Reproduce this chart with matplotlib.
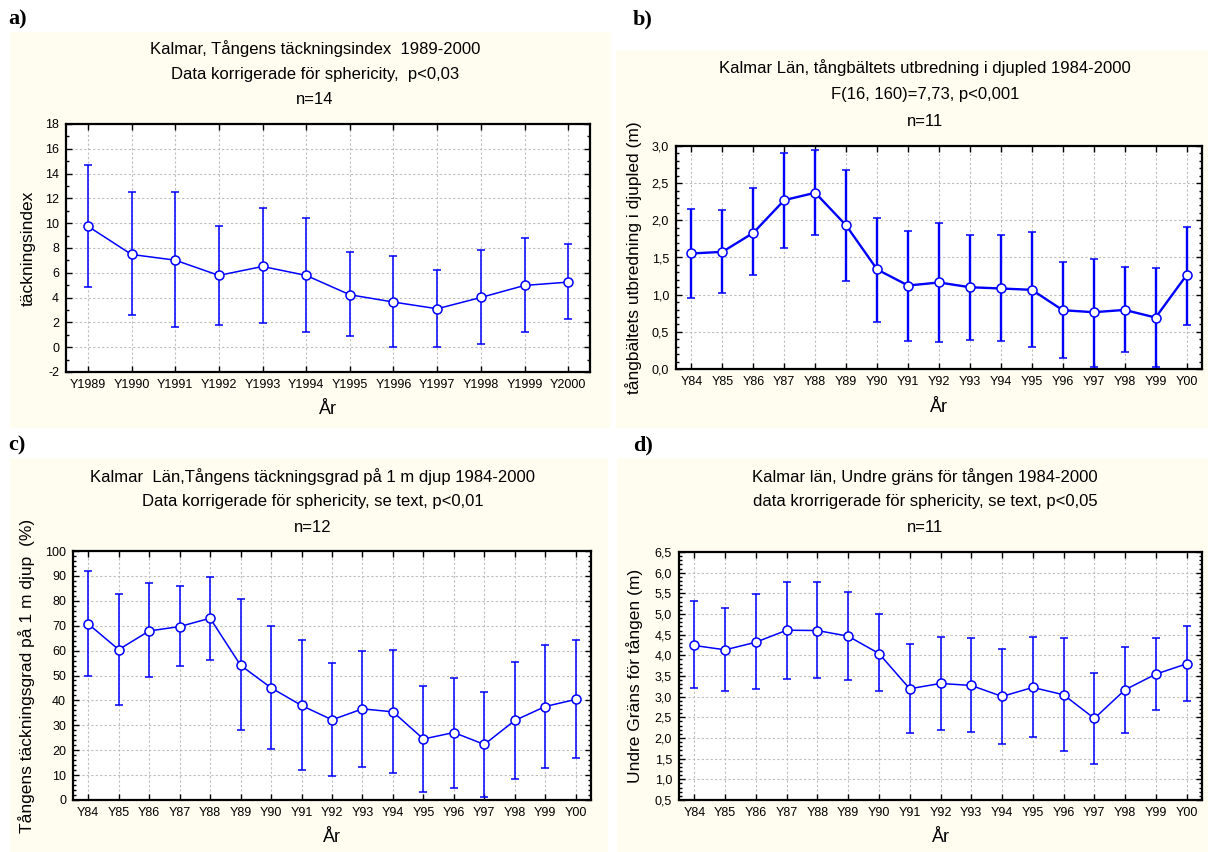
import matplotlib
matplotlib.use("Agg")
import matplotlib.pyplot as plt
import numpy as np
from matplotlib.patches import Rectangle
from matplotlib.ticker import MultipleLocator, FuncFormatter

plt.rcParams['font.family'] = ['Liberation Sans', 'DejaVu Sans']
plt.rcParams['axes.unicode_minus'] = False

# ---------------- data ----------------
years_a = ["Y1989", "Y1990", "Y1991", "Y1992", "Y1993", "Y1994",
           "Y1995", "Y1996", "Y1997", "Y1998", "Y1999", "Y2000"]
mean_a = [9.76, 7.48, 7.02, 5.79, 6.51, 5.79, 4.23, 3.64, 3.10, 4.01, 4.98, 5.25]
low_a = [4.85, 2.56, 1.60, 1.79, 1.92, 1.20, 0.90, 0.04, 0.00, 0.26, 1.22, 2.30]
up_a = [14.72, 12.50, 12.52, 9.81, 11.21, 10.40, 7.66, 7.32, 6.21, 7.83, 8.82, 8.36]

years_b = ["Y84", "Y85", "Y86", "Y87", "Y88", "Y89", "Y90", "Y91", "Y92",
           "Y93", "Y94", "Y95", "Y96", "Y97", "Y98", "Y99", "Y00"]
mean_b = [1.554, 1.576, 1.832, 2.272, 2.371, 1.931, 1.339, 1.123, 1.164,
          1.100, 1.083, 1.065, 0.791, 0.764, 0.795, 0.692, 1.262]
low_b = [0.957, 1.020, 1.262, 1.630, 1.797, 1.181, 0.634, 0.373, 0.359,
         0.395, 0.377, 0.292, 0.144, 0.031, 0.229, 0.022, 0.597]
up_b = [2.147, 2.142, 2.430, 2.910, 2.940, 2.672, 2.034, 1.859, 1.958,
        1.797, 1.797, 1.841, 1.442, 1.482, 1.370, 1.356, 1.904]

years_c = years_b
mean_c = [70.7, 60.4, 67.9, 69.65, 73.0, 54.1, 45.05, 37.97, 32.2,
          36.6, 35.4, 24.5, 27.1, 22.3, 31.95, 37.55, 40.4]
low_c = [49.6, 38.1, 49.2, 53.9, 56.15, 28.3, 20.3, 12.2, 9.6,
         13.4, 10.7, 3.34, 4.95, 1.1, 8.4, 12.8, 16.7]
up_c = [92.1, 82.9, 87.2, 85.8, 89.7, 80.6, 69.9, 64.2, 55.1,
        60.0, 60.4, 45.9, 49.1, 43.45, 55.35, 62.3, 64.3]

years_d = years_b
mean_d = [4.238, 4.133, 4.318, 4.608, 4.600, 4.463, 4.044, 3.191, 3.320,
          3.271, 3.006, 3.223, 3.046, 2.474, 3.167, 3.545, 3.795]
low_d = [3.207, 3.126, 3.175, 3.432, 3.448, 3.392, 3.126, 2.112, 2.200,
         2.136, 1.862, 2.031, 1.693, 1.371, 2.112, 2.684, 2.893]
up_d = [5.316, 5.147, 5.477, 5.783, 5.775, 5.542, 4.994, 4.286, 4.447,
        4.431, 4.165, 4.439, 4.430, 3.577, 4.205, 4.430, 4.713]

# ---------------- figure ----------------
W, H = 1208, 852
fig = plt.figure(figsize=(W / 100, H / 100), dpi=100)
fig.patch.set_facecolor('white')

CREAM = '#FFFDF0'
BLUE = '#0000FF'


def px_rect(x0, y0, x1, y1):
    return [x0 / W, 1 - y1 / H, (x1 - x0) / W, (y1 - y0) / H]


# cream panel backgrounds
for (x0, y0, x1, y1) in [(10, 32, 610, 428), (616, 50, 1208, 428),
                         (10, 458, 608, 852), (617, 458, 1208, 852)]:
    fig.patches.append(Rectangle((x0 / W, 1 - y1 / H), (x1 - x0) / W, (y1 - y0) / H,
                                 transform=fig.transFigure, facecolor=CREAM,
                                 edgecolor='none', zorder=-5))


def comma_fmt(dec):
    return FuncFormatter(lambda v, p: (f"{v:.{dec}f}").replace('.', ','))


def panel(rect, cats, mean, low, up, ylim, major, minor, fmt, ylabel,
          titles, title_x, title_ys, ylabel_x, xlabel_y, lw, letter, letter_xy):
    ax = fig.add_axes(px_rect(*rect))
    ax.set_zorder(2)
    ax.set_facecolor('white')
    x = np.arange(len(cats))
    m = np.array(mean)
    yerr = [m - np.array(low), np.array(up) - m]
    ax.errorbar(x, m, yerr=yerr, color=BLUE, lw=lw, elinewidth=lw,
                capsize=3.0, capthick=lw + 0.6, marker='o', ms=6.5,
                mfc='white', mec=BLUE, mew=1.1, zorder=3)
    ax.set_xlim(-0.5, len(cats) - 0.5)
    ax.set_ylim(*ylim)
    ax.set_xticks(x)
    ax.set_xticklabels(cats, fontsize=9)
    ax.yaxis.set_major_locator(MultipleLocator(major))
    ax.yaxis.set_minor_locator(MultipleLocator(minor))
    if fmt is not None:
        ax.yaxis.set_major_formatter(fmt)
    ax.tick_params(axis='both', which='major', direction='in', length=4,
                   width=1, top=True, right=True, labelsize=9, pad=5)
    ax.tick_params(axis='y', which='minor', direction='in', length=2.5,
                   width=1, right=True)
    ax.grid(True, which='major', color='#BDBDBD', linestyle=(0, (2, 2)), lw=0.8)
    for s in ax.spines.values():
        s.set_linewidth(1.6)
        s.set_color('black')
    # titles
    for t, yy in zip(titles, title_ys):
        fig.text(title_x / W, 1 - yy / H, t, ha='center', va='center', fontsize=12)
    fig.text(ylabel_x / W, 1 - (rect[1] + rect[3]) / 2 / H, ylabel, rotation=90,
             ha='center', va='center', fontsize=12.5)
    fig.text((rect[0] + rect[2]) / 2 / W, 1 - xlabel_y / H, 'År', ha='center',
             va='center', fontsize=13)
    fig.text(letter_xy[0] / W, 1 - letter_xy[1] / H, letter, ha='left', va='center',
             fontsize=16, fontweight='bold', family='Liberation Serif')
    return ax


panel((66, 124, 590, 372), years_a, mean_a, low_a, up_a, (-2, 18), 2, 1, None,
      'täckningsindex',
      ['Kalmar, Tångens täckningsindex  1989-2000',
       'Data korrigerade för sphericity,  p<0,03', 'n=14'],
      315, [49, 74, 99], 28, 410, 1.1, 'a)', (8, 19))

panel((676, 146, 1202, 369), years_b, mean_b, low_b, up_b, (0, 3), 0.5, 0.1,
      comma_fmt(1), 'tångbältets utbredning i djupled (m)',
      ['Kalmar Län, tångbältets utbredning i djupled 1984-2000',
       'F(16, 160)=7,73, p<0,001', 'n=11'],
      925, [68, 94, 121], 634, 407, 1.7, 'b)', (633, 19))

panel((73, 551, 591, 800), years_c, mean_c, low_c, up_c, (0, 100), 10, 2, None,
      'Tångens täckningsgrad på 1 m djup  (%)',
      ['Kalmar  Län,Tångens täckningsgrad på 1 m djup 1984-2000',
       'Data korrigerade för sphericity, se text, p<0,01', 'n=12'],
      313, [477, 502, 527], 27, 838, 1.1, 'c)', (8, 445))

panel((679, 552, 1202, 800), years_d, mean_d, low_d, up_d, (0.5, 6.5), 0.5, 0.1,
      comma_fmt(1), 'Undre Gräns för tången (m)',
      ['Kalmar län, Undre gräns för tången 1984-2000',
       'data krorrigerade för sphericity, se text, p<0,05', 'n=11'],
      925, [477, 502, 527], 635, 838, 1.1, 'd)', (633, 445))

fig.savefig('out.png', dpi=100, facecolor='white')
